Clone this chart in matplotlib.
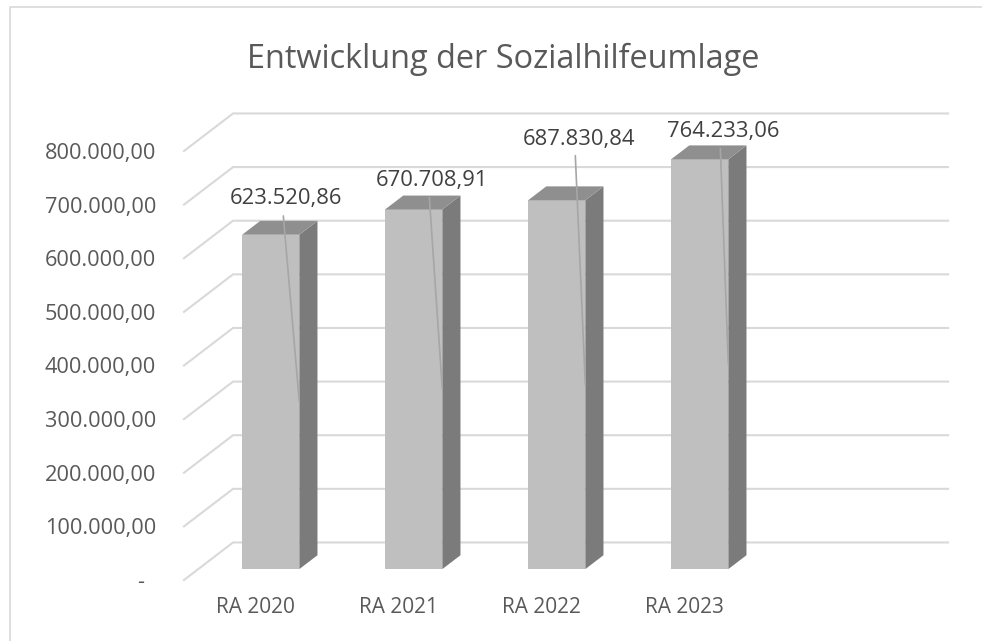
import matplotlib
matplotlib.use('Agg')
import matplotlib.pyplot as plt
from matplotlib.lines import Line2D
from matplotlib.patches import Polygon

plt.rcParams['font.family'] = ['Open Sans', 'DejaVu Sans']

# Data
categories = ['RA 2020', 'RA 2021', 'RA 2022', 'RA 2023', '']
values = [623520.86, 670708.91, 687830.84, 764233.06]
y_ticks = [0, 100000, 200000, 300000, 400000, 500000, 600000, 700000, 800000]
title = 'Entwicklung der Sozialhilfeumlage'

# hand placed labels, pixels away from the end of each leader line
label_offsets = [(-13, 203), (-10, 209), (-6.5, 245), (-5.5, 233)]
leader_offsets = [(-16, 186), (-13, 192), (-10, 229), (-8, 216)]

W, H = 982, 641
DEPTH_X = 0.343      # category units for the full floor depth
DEPTH_Y = 70000      # value units for the full floor depth
BAR_WIDTH = 0.4
BAR_CENTER = 0.507
BAR_FRONT = 0.29
BAR_BACK = 0.66


def de_format(v):
    return f'{v:,.2f}'.replace(',', 'X').replace('.', ',').replace('X', '.')


def project(x, y, d):
    # oblique projection: d=0 front of floor, d=1 back wall
    return (x + d * DEPTH_X, y + d * DEPTH_Y)


fig = plt.figure(figsize=(W / 100, H / 100), dpi=100)
ax = fig.add_axes([184 / W, 1 - 580 / H, 715 / W, 429 / H])
ax.set_xlim(0, len(categories))
ax.set_ylim(0, 800000)
ax.patch.set_visible(False)
for s in ax.spines.values():
    s.set_visible(False)

# chart frame, only left and top show in the crop
fig.add_artist(Line2D([10 / W, 10 / W, 981 / W], [0, 1 - 7 / H, 1 - 7 / H],
                      transform=fig.transFigure, color='#d9d9d9', lw=1.2))

# gridlines, running back from the front edge and along the back wall
for t in y_ticks:
    pts = [project(0, t, 0), project(0, t, 1), project(len(categories), t, 1)]
    ax.plot([p[0] for p in pts], [p[1] for p in pts], color='#d9d9d9', lw=1.5,
            clip_on=False, zorder=1, solid_joinstyle='miter')

# bars
for i, v in enumerate(values):
    x0 = i + BAR_CENTER - BAR_WIDTH / 2
    x1 = i + BAR_CENTER + BAR_WIDTH / 2
    front = [project(x0, 0, BAR_FRONT), project(x1, 0, BAR_FRONT),
             project(x1, v, BAR_FRONT), project(x0, v, BAR_FRONT)]
    side = [project(x1, 0, BAR_FRONT), project(x1, 0, BAR_BACK),
            project(x1, v, BAR_BACK), project(x1, v, BAR_FRONT)]
    top = [project(x0, v, BAR_FRONT), project(x1, v, BAR_FRONT),
           project(x1, v, BAR_BACK), project(x0, v, BAR_BACK)]
    ax.add_patch(Polygon(front, color='#bfbfbf', lw=0, zorder=3, clip_on=False))
    ax.add_patch(Polygon(side, color='#7b7b7b', lw=0, zorder=3, clip_on=False))
    ax.add_patch(Polygon(top, color='#8f8f8f', lw=0, zorder=3, clip_on=False))

    # leader line ends at half the bar height, label sits above it
    end = project(x1, v / 2, BAR_FRONT)
    ax.annotate('', xy=end, xytext=leader_offsets[i], textcoords='offset pixels',
                annotation_clip=False, zorder=4,
                arrowprops=dict(arrowstyle='-', color='#a6a6a6', lw=1.2,
                                shrinkA=0, shrinkB=0))
    ax.annotate(de_format(v), xy=end, xytext=label_offsets[i], textcoords='offset pixels',
                ha='center', va='center', fontsize=15.8, color='#404040', zorder=5,
                annotation_clip=False)

ax.set_xticks([i + 0.5 for i in range(len(categories))])
ax.set_xticklabels(categories, fontsize=15, color='#595959')
ax.set_yticks(y_ticks)
ax.set_yticklabels(['-  ' if t == 0 else de_format(t) for t in y_ticks],
                   fontsize=15.7, color='#595959')
ax.tick_params(axis='x', length=0, pad=12)
ax.tick_params(axis='y', length=0, pad=20)

fig.text(503.5 / W, 1 - 59 / H, title, ha='center', va='center', fontsize=23.4, color='#595959')

fig.savefig('out.png', dpi=100)
